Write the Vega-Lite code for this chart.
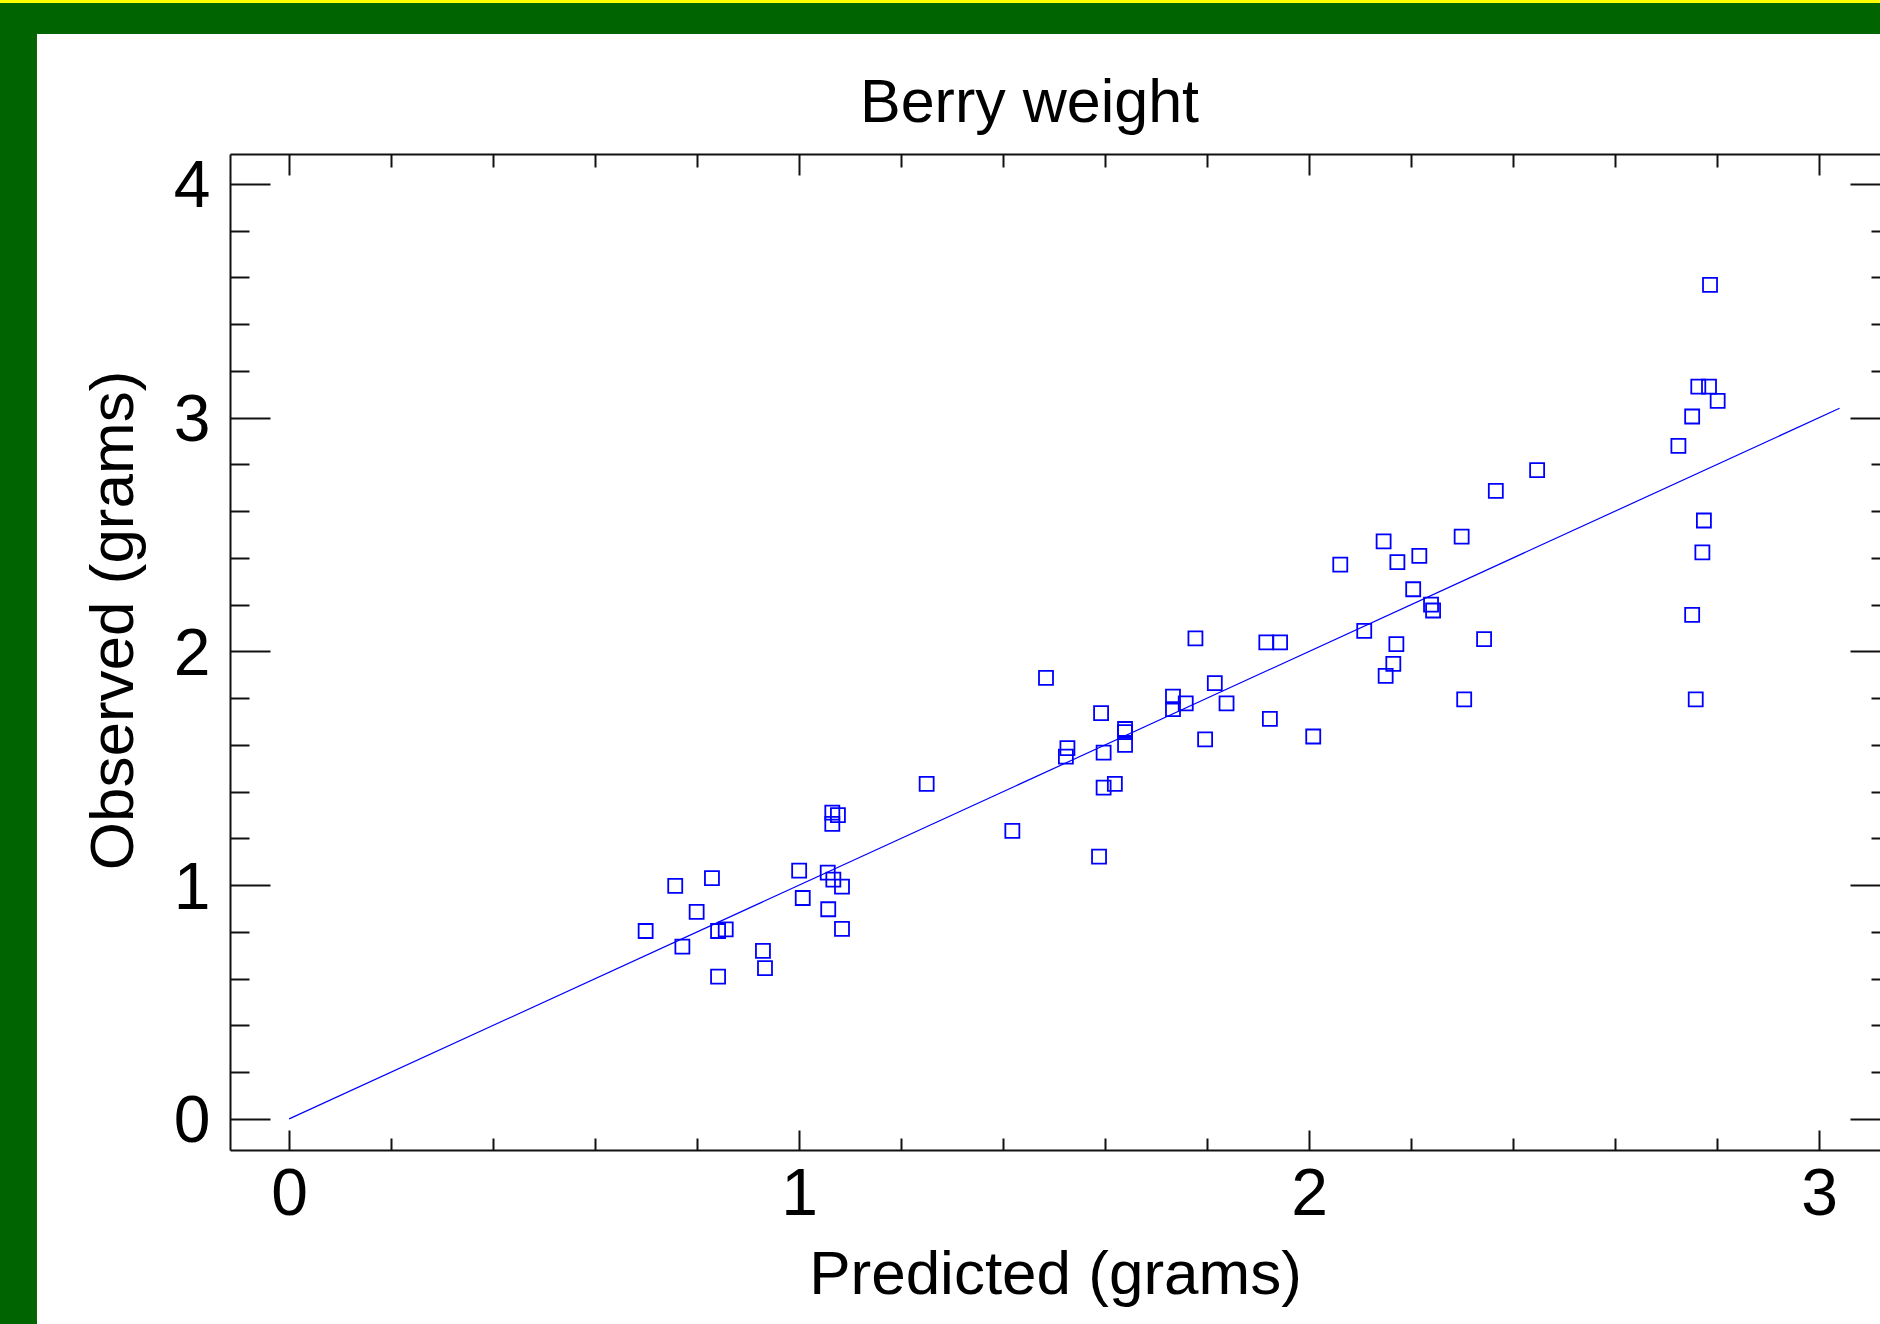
{
  "$schema": "https://vega.github.io/schema/vega-lite/v6.json",
  "autosize": {"type": "none"},
  "padding": {"left": 230, "top": 154, "right": 0, "bottom": 174},
  "width": 1650,
  "height": 996,
  "background": "#006400",
  "config": {
    "view": {"stroke": null},
    "axis": {"grid": false, "domainColor": "#111111", "domainWidth": 2, "tickColor": "#111111", "tickWidth": 2, "labelFont": "Liberation Sans", "labelFontSize": 66, "labelColor": "#000000", "titleFont": "Liberation Sans", "titleFontSize": 62, "titleFontWeight": "normal", "titleColor": "#000000"}
  },
  "datasets": {
    "pts": [
      {"predicted": 0.699, "observed": 0.804},
      {"predicted": 0.757, "observed": 0.997},
      {"predicted": 0.771, "observed": 0.737},
      {"predicted": 0.799, "observed": 0.886},
      {"predicted": 0.829, "observed": 1.030},
      {"predicted": 0.841, "observed": 0.804},
      {"predicted": 0.856, "observed": 0.811},
      {"predicted": 0.841, "observed": 0.609},
      {"predicted": 0.929, "observed": 0.719},
      {"predicted": 0.933, "observed": 0.645},
      {"predicted": 1.000, "observed": 1.062},
      {"predicted": 1.007, "observed": 0.945},
      {"predicted": 1.056, "observed": 1.054},
      {"predicted": 1.067, "observed": 1.024},
      {"predicted": 1.084, "observed": 0.994},
      {"predicted": 1.057, "observed": 0.897},
      {"predicted": 1.084, "observed": 0.813},
      {"predicted": 1.065, "observed": 1.310},
      {"predicted": 1.076, "observed": 1.300},
      {"predicted": 1.065, "observed": 1.262},
      {"predicted": 1.250, "observed": 1.433},
      {"predicted": 1.418, "observed": 1.232},
      {"predicted": 1.484, "observed": 1.887},
      {"predicted": 1.526, "observed": 1.586},
      {"predicted": 1.523, "observed": 1.550},
      {"predicted": 1.592, "observed": 1.736},
      {"predicted": 1.597, "observed": 1.567},
      {"predicted": 1.619, "observed": 1.433},
      {"predicted": 1.597, "observed": 1.417},
      {"predicted": 1.588, "observed": 1.122},
      {"predicted": 1.639, "observed": 1.668},
      {"predicted": 1.639, "observed": 1.655},
      {"predicted": 1.639, "observed": 1.600},
      {"predicted": 1.733, "observed": 1.807},
      {"predicted": 1.733, "observed": 1.753},
      {"predicted": 1.758, "observed": 1.778},
      {"predicted": 1.777, "observed": 2.056},
      {"predicted": 1.796, "observed": 1.624},
      {"predicted": 1.815, "observed": 1.864},
      {"predicted": 1.838, "observed": 1.778},
      {"predicted": 1.916, "observed": 2.039},
      {"predicted": 1.943, "observed": 2.039},
      {"predicted": 1.923, "observed": 1.711},
      {"predicted": 2.008, "observed": 1.636},
      {"predicted": 2.061, "observed": 2.371},
      {"predicted": 2.108, "observed": 2.088},
      {"predicted": 2.146, "observed": 2.471},
      {"predicted": 2.173, "observed": 2.382},
      {"predicted": 2.216, "observed": 2.409},
      {"predicted": 2.171, "observed": 2.031},
      {"predicted": 2.165, "observed": 1.947},
      {"predicted": 2.150, "observed": 1.895},
      {"predicted": 2.204, "observed": 2.266},
      {"predicted": 2.239, "observed": 2.200},
      {"predicted": 2.243, "observed": 2.175},
      {"predicted": 2.299, "observed": 2.491},
      {"predicted": 2.343, "observed": 2.053},
      {"predicted": 2.304, "observed": 1.795},
      {"predicted": 2.366, "observed": 2.687},
      {"predicted": 2.447, "observed": 2.776},
      {"predicted": 2.724, "observed": 2.879},
      {"predicted": 2.751, "observed": 3.005},
      {"predicted": 2.763, "observed": 3.133},
      {"predicted": 2.784, "observed": 3.133},
      {"predicted": 2.801, "observed": 3.072},
      {"predicted": 2.786, "observed": 3.568},
      {"predicted": 2.774, "observed": 2.560},
      {"predicted": 2.771, "observed": 2.424},
      {"predicted": 2.751, "observed": 2.156},
      {"predicted": 2.758, "observed": 1.795}
    ],
    "fit": [
      {"predicted": 0, "observed": 0},
      {"predicted": 3.04, "observed": 3.04}
    ]
  },
  "resolve": {"axis": {"x": "independent", "y": "independent"}},
  "layer": [
    {
      "data": {"values": [{}]},
      "mark": {"type": "rect", "color": "#ffffff", "clip": false},
      "encoding": {
        "x": {"datum": -0.4945, "type": "quantitative", "scale": {"domain": [-0.116, 3.1193], "nice": false, "zero": false},
              "axis": {"orient": "top", "zindex": 1, "values": [0.2, 0.4, 0.6, 0.8, 1.2, 1.4, 1.6, 1.8, 2.2, 2.4, 2.6, 2.8], "tickSize": -13, "labels": false, "domain": true, "title": null}},
        "x2": {"datum": 10},
        "y": {"datum": 4.641, "type": "quantitative", "scale": {"domain": [-0.133, 4.128], "nice": false, "zero": false},
              "axis": {"orient": "right", "zindex": 1, "values": [0.2, 0.4, 0.6, 0.8, 1.2, 1.4, 1.6, 1.8, 2.2, 2.4, 2.6, 2.8, 3.2, 3.4, 3.6, 3.8], "tickSize": -9, "labels": false, "domain": false, "title": null}},
        "y2": {"datum": -10}
      }
    },
    {
      "data": {"values": [{}]},
      "mark": {"type": "rect", "color": "#ffff00", "clip": false},
      "encoding": {
        "x": {"datum": -10, "type": "quantitative", "scale": {"domain": [-0.116, 3.1193], "nice": false, "zero": false},
              "axis": {"orient": "top", "zindex": 1, "values": [0, 1, 2, 3], "tickSize": -21, "labels": false, "domain": false, "title": "Berry weight", "titleFontSize": 61, "titlePadding": 19, "titleX": 799}},
        "x2": {"datum": 10},
        "y": {"datum": 4.774, "type": "quantitative", "scale": {"domain": [-0.133, 4.128], "nice": false, "zero": false},
              "axis": {"orient": "right", "zindex": 1, "values": [0, 1, 2, 3, 4], "tickSize": -30, "labels": false, "domain": false, "title": null}},
        "y2": {"datum": 10}
      }
    },
    {
      "data": {"name": "fit"},
      "mark": {"type": "line", "color": "#0000ff", "strokeWidth": 1.2},
      "encoding": {
        "x": {"field": "predicted", "type": "quantitative", "scale": {"domain": [-0.116, 3.1193], "nice": false, "zero": false},
              "axis": {"orient": "bottom", "zindex": 1, "values": [0.2, 0.4, 0.6, 0.8, 1.2, 1.4, 1.6, 1.8, 2.2, 2.4, 2.6, 2.8], "tickSize": -12, "labels": false, "domain": false, "title": null}},
        "y": {"field": "observed", "type": "quantitative", "scale": {"domain": [-0.133, 4.128], "nice": false, "zero": false},
              "axis": {"orient": "left", "zindex": 1, "values": [0.2, 0.4, 0.6, 0.8, 1.2, 1.4, 1.6, 1.8, 2.2, 2.4, 2.6, 2.8, 3.2, 3.4, 3.6, 3.8], "tickSize": -19, "labels": false, "domain": false, "title": null}}
      }
    },
    {
      "data": {"name": "pts"},
      "mark": {"type": "point", "shape": "square", "size": 196, "filled": false, "color": "#0000ff", "strokeWidth": 1.8, "opacity": 1},
      "encoding": {
        "x": {"field": "predicted", "type": "quantitative", "scale": {"domain": [-0.116, 3.1193], "nice": false, "zero": false},
              "axis": {"orient": "bottom", "zindex": 1, "values": [0, 1, 2, 3], "tickSize": -20, "labelPadding": 32, "domain": true, "title": "Predicted (grams)", "titlePadding": 17, "format": "d"}},
        "y": {"field": "observed", "type": "quantitative", "scale": {"domain": [-0.133, 4.128], "nice": false, "zero": false},
              "axis": {"orient": "left", "zindex": 1, "values": [0, 1, 2, 3, 4], "tickSize": -40, "labelPadding": 60, "labelOffset": 3, "domain": true, "title": "Observed (grams)", "titlePadding": 28, "titleY": 466, "format": "d"}}
      }
    }
  ]
}
